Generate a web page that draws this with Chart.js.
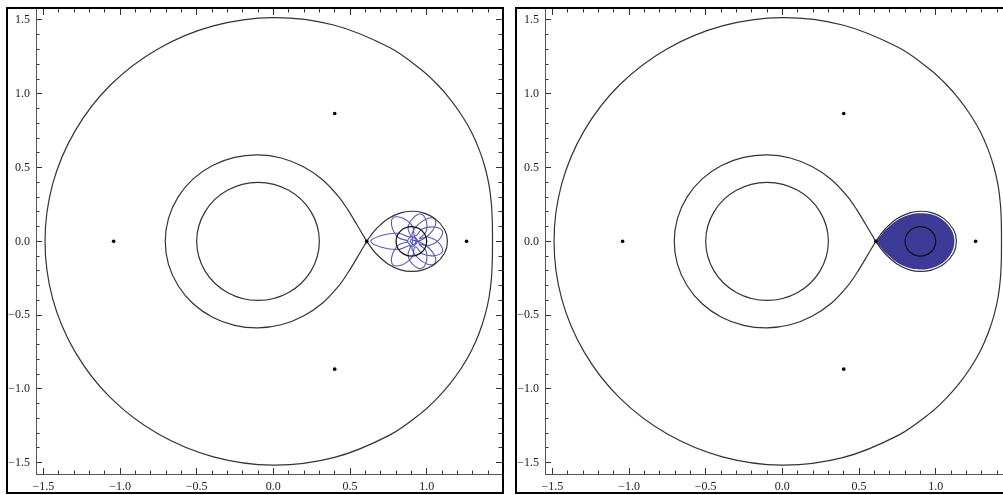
<!DOCTYPE html>
<html>
<head>
<meta charset="utf-8">
<script src="https://cdn.jsdelivr.net/npm/chart.js@4.4.1/dist/chart.umd.min.js"></script>
<style>
  html, body { margin: 0; padding: 0; background: #fff; width: 1003px; height: 495px; overflow: hidden; }
  .panel { position: absolute; top: 0; width: 509px; height: 495px; }
  .panel canvas { position: absolute; left: 0; top: 0; }
  .frame { position: absolute; left: 6px; top: 7px; width: 498px; height: 487px;
           box-sizing: border-box; border: 2px solid #000; pointer-events: none; }
</style>
</head>
<body>
<div class="panel" style="left:0px"><canvas id="left" width="509" height="495"></canvas><div class="frame"></div></div>
<div class="panel" style="left:509px"><canvas id="right" width="509" height="495"></canvas><div class="frame"></div></div>
<script>
// Zero-velocity curve of the restricted three-body problem (mass ratio 0.1) at the L1 energy.
// Outer boundary, closed, counter-clockwise.
const outerCurve = [
  [1.429, 0], [1.428, 0.125], [1.422, 0.251], [1.407, 0.377], [1.380, 0.502], [1.341, 0.625],
  [1.290, 0.745], [1.226, 0.858], [1.151, 0.966], [1.066, 1.066], [0.971, 1.158], [0.758, 1.313],
  [0.393, 1.466], [0.000, 1.516], [-0.391, 1.460], [-0.753, 1.304], [-1.061, 1.061],
  [-1.294, 0.747], [-1.440, 0.386], [-1.489, 0],
  [-1.440, -0.386], [-1.294, -0.747], [-1.061, -1.061], [-0.753, -1.304], [-0.391, -1.460],
  [0.000, -1.516], [0.393, -1.466], [0.758, -1.313], [0.971, -1.158], [1.066, -1.066],
  [1.151, -0.966], [1.226, -0.858], [1.290, -0.745], [1.341, -0.625], [1.380, -0.502],
  [1.407, -0.377], [1.422, -0.251], [1.428, -0.125]
];
// Lobe around the large primary, from L1 and back to L1.
const primaryLobe = [
  [0.609, 0], [0.544, 0.114], [0.486, 0.213], [0.425, 0.303], [0.319, 0.419], [0.193, 0.507],
  [0.051, 0.565], [-0.100, 0.586], [-0.253, 0.569], [-0.397, 0.514], [-0.523, 0.423],
  [-0.621, 0.301], [-0.684, 0.156], [-0.705, 0],
  [-0.684, -0.156], [-0.621, -0.301], [-0.523, -0.423], [-0.397, -0.514], [-0.253, -0.569],
  [-0.100, -0.586], [0.051, -0.565], [0.193, -0.507], [0.319, -0.419], [0.425, -0.303],
  [0.486, -0.213], [0.544, -0.114], [0.609, 0]
];
// Lobe around the small primary, from L1 and back to L1.
const secondaryLobe = [
  [0.609, 0], [0.640, 0.046], [0.670, 0.084], [0.747, 0.153], [0.830, 0.193], [0.900, 0.204],
  [0.971, 0.195], [1.054, 0.154], [1.117, 0.079], [1.135, 0],
  [1.117, -0.079], [1.054, -0.154], [0.971, -0.195], [0.900, -0.204], [0.830, -0.193],
  [0.747, -0.153], [0.670, -0.084], [0.640, -0.046], [0.609, 0]
];
// Circle of radius 0.4 about the large primary (closed).
const primaryCircle = [
  [0.300, 0], [0.246, 0.200], [0.100, 0.346], [-0.100, 0.400], [-0.300, 0.346], [-0.446, 0.200],
  [-0.500, 0], [-0.446, -0.200], [-0.300, -0.346], [-0.100, -0.400], [0.100, -0.346], [0.246, -0.200]
];
// Circle of radius 0.1 about the small primary (closed).
const secondaryCircle = [
  [1.000, 0], [0.987, 0.050], [0.950, 0.087], [0.900, 0.100], [0.850, 0.087], [0.813, 0.050],
  [0.800, 0], [0.813, -0.050], [0.850, -0.087], [0.900, -0.100], [0.950, -0.087], [0.987, -0.050]
];
// Lagrange points L1, L2, L3, L4, L5.
const lagrangePoints = [[0.609, 0], [1.260, 0], [-1.042, 0], [0.400, 0.866], [0.400, -0.866]];
// Rosette orbit trapped in the small lobe: wide loops out to the boundary, tight loops near the centre.
const orbit = [
  [0.954, -0.018], [1.011, -0.029], [1.081, 0.012], [1.103, 0.068], [1.050, 0.097], [0.970, 0.084], [0.933, 0.039],
  [0.919, 0.042], [0.907, 0.103], [0.842, 0.158], [0.780, 0.161], [0.773, 0.100], [0.815, 0.026], [0.873, 0.004],
  [0.873, -0.004], [0.815, -0.026], [0.773, -0.100], [0.780, -0.161], [0.842, -0.158], [0.907, -0.103], [0.919, -0.042],
  [0.933, -0.039], [0.970, -0.084], [1.050, -0.097], [1.103, -0.068], [1.081, -0.012], [1.011, 0.029], [0.954, 0.018],
  [0.952, 0.021], [0.994, 0.062], [0.998, 0.135], [0.964, 0.184], [0.911, 0.158], [0.878, 0.093], [0.894, 0.037],
  [0.885, 0.030], [0.815, 0.055], [0.705, 0.040], [0.635, 0], [0.705, -0.040], [0.815, -0.055], [0.885, -0.030],
  [0.894, -0.037], [0.878, -0.093], [0.911, -0.158], [0.964, -0.184], [0.998, -0.135], [0.994, -0.062], [0.952, -0.021],
  [0.945, 0.000], [0.912, 0.036], [0.876, 0.004], [0.905, -0.034], [0.938, -0.004], [0.917, 0.025],
  [0.893, 0.002], [0.913, -0.022], [0.930, -0.002],
  [0.909, 0.009], [0.955, 0.005], [1.015, 0.045], [1.055, 0.105], [1.051, 0.151], [1.005, 0.155],
  [0.945, 0.115], [0.905, 0.055], [0.907, 0.000],
  [0.905, -0.055], [0.945, -0.115], [1.005, -0.155], [1.051, -0.151], [1.055, -0.105], [1.015, -0.045],
  [0.955, -0.005], [0.915, 0.004]
];
// Region swept by a long integration of the same orbit.
const sweptRegion = [
  [0.612, 0], [0.642, 0.040], [0.672, 0.078], [0.748, 0.143], [0.830, 0.181], [0.900, 0.191],
  [0.970, 0.183], [1.047, 0.145], [1.105, 0.074], [1.122, 0],
  [1.105, -0.074], [1.047, -0.145], [0.970, -0.183], [0.900, -0.191], [0.830, -0.181],
  [0.748, -0.143], [0.672, -0.078], [0.642, -0.040]
];

const xMajor = [-1.5, -1.0, -0.5, 0.0, 0.5, 1.0];
const yMajor = [-1.5, -1.0, -0.5, 0.0, 0.5, 1.0, 1.5];

const X_RANGE = [-1.548, 1.491];
const Y_RANGE = [-1.5765, 1.5745];

function minorTicks(range) {
  const out = [];
  for (let k = Math.ceil(range[0] * 10); k <= Math.floor(range[1] * 10); k++) out.push(k / 10);
  return out;
}
const xMinor = minorTicks(X_RANGE);
const yMinor = minorTicks(Y_RANGE);

const fmt = v => (Math.abs(v) < 1e-9 ? '0.0' : v.toFixed(1).replace('-', '\u2212'));
const pts = arr => arr.map(([x, y]) => ({ x, y }));

// Closed curves: let the line element join its last point back to the first with a smooth spline.
const closedLoops = {
  id: 'closedLoops',
  afterDatasetUpdate(chart, args) {
    const ds = chart.data.datasets[args.index];
    if (ds.closed && args.meta.dataset) {
      args.meta.dataset._loop = true;
      args.meta.dataset._fullLoop = true;
    }
  }
};

// size: thickness of the axis box in px (0 for tick-only axes hugging the frame)
function scale(position, values, range, tickLen, labels, border, size, weight) {
  return {
    type: 'linear', position, min: range[0], max: range[1], weight,
    axis: (position === 'top' || position === 'bottom') ? 'x' : 'y',
    afterBuildTicks: s => { s.ticks = values.map(v => ({ value: v })); },
    afterFit: s => {
      if (s.isHorizontal()) s.height = size; else s.width = size;
      s.paddingLeft = s.paddingRight = s.paddingTop = s.paddingBottom = 0;
    },
    grid: { display: true, drawOnChartArea: false, drawTicks: true, tickLength: -tickLen,
            tickColor: '#333', tickWidth: 1 },
    border: { display: border, color: '#555', width: 1 },
    ticks: { display: labels, padding: 12, color: '#222', autoSkip: false, maxRotation: 0, minRotation: 0,
             font: { family: 'Liberation Serif', size: 12 }, callback: v => fmt(v) }
  };
}

function curve(data, color, width, order, extra) {
  return Object.assign({ data: pts(data), showLine: true, borderColor: color, borderWidth: width,
    pointRadius: 0, tension: 0.35, fill: false, order }, extra || {});
}

function build(canvasId, withOrbit) {
  const lineColor = '#333';
  const datasets = [
    curve(outerCurve, lineColor, 1.2, 2, { closed: true }),
    curve(primaryLobe, lineColor, 1.2, 2),
    curve(secondaryLobe, lineColor, 1.2, 2),
    curve(primaryCircle, lineColor, 1.2, 2, { closed: true }),
    curve(secondaryCircle, '#111', 1.3, 1, { closed: true }),
    { data: pts(lagrangePoints), showLine: false, pointRadius: 1.8, pointBackgroundColor: '#000',
      pointBorderWidth: 0, order: 0 }
  ];
  if (withOrbit) {
    datasets.push(curve(orbit, 'rgba(72,72,172,0.9)', 1.1, 3));
  } else {
    datasets.push(curve(sweptRegion, '#3d3a98', 0, 4,
      { closed: true, fill: 'shape', backgroundColor: '#3d3a98' }));
  }
  new Chart(document.getElementById(canvasId), {
    type: 'scatter',
    data: { datasets },
    plugins: [closedLoops],
    options: {
      responsive: false, animation: false, devicePixelRatio: 1,
      layout: { padding: { left: 0, top: 9, right: 7, bottom: 0 } },
      plugins: { legend: { display: false }, tooltip: { enabled: false } },
      events: [],
      scales: {
        x: scale('bottom', xMajor, X_RANGE, 6, true, true, 21, 1),
        xMinor: scale('bottom', xMinor, X_RANGE, 3.5, false, false, 0, 0),
        xTop: scale('top', xMajor, X_RANGE, 6, false, false, 0, 1),
        xTopMinor: scale('top', xMinor, X_RANGE, 3.5, false, false, 0, 0),
        y: scale('left', yMajor, Y_RANGE, 6, true, true, 36, 1),
        yMinor: scale('left', yMinor, Y_RANGE, 3.5, false, false, 0, 0),
        yRight: scale('right', yMajor, Y_RANGE, 6, false, false, 0, 1),
        yRightMinor: scale('right', yMinor, Y_RANGE, 3.5, false, false, 0, 0)
      }
    }
  });
}

build('left', true);
build('right', false);
</script>
</body>
</html>
